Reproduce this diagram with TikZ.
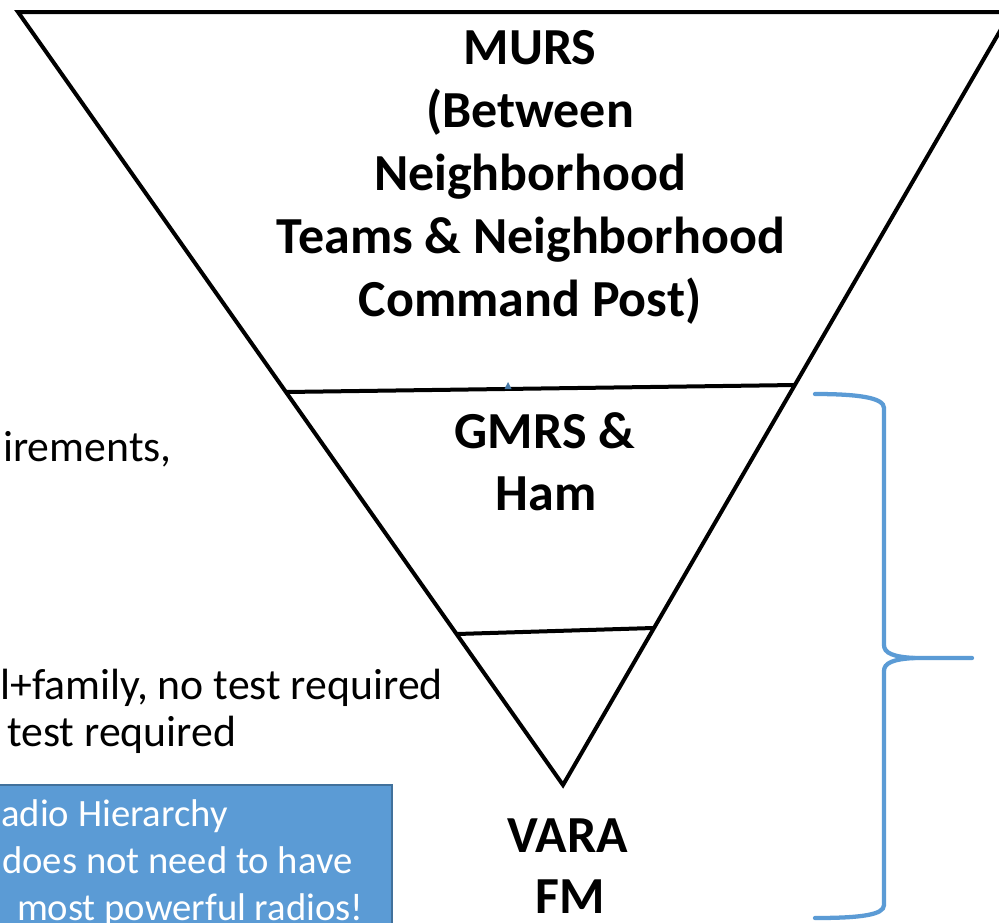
\documentclass[tikz,border=0pt]{standalone}
\usepackage{fontspec}
\setmainfont{Carlito}
\definecolor{boxblue}{HTML}{5B9BD5}
\definecolor{boxedge}{HTML}{41719C}
\begin{document}
\begin{tikzpicture}[x=0.75pt,y=-0.75pt,
  tierlabel/.style={font=\fontsize{39}{47}\selectfont\bfseries, anchor=base, inner sep=0pt},
  sidetext/.style={font=\fontsize{32.8}{38}\selectfont, anchor=base west, inner sep=0pt},
  boxtext/.style={font=\fontsize{29}{34}\selectfont, anchor=base west, inner sep=0pt, text=white},
  outline/.style={line width=3pt, line join=miter},
  divider/.style={line width=3pt},
  bracestyle/.style={draw=boxblue, line width=3.2pt, line cap=round}]
\useasboundingbox (0,0) rectangle (999,922);
\fill[white] (0,0) rectangle (999,922);
% triangle
\coordinate (tl) at (18,12);
\coordinate (tr) at (1011,12);
\coordinate (apex) at (563,785);
\draw[outline] (tl) -- (tr) -- (apex) -- cycle;
% dividers
\coordinate (d1l) at (286,392);
\coordinate (d1r) at (795,385);
\coordinate (d2l) at (457,634);
\coordinate (d2r) at (653,628);
\draw[divider] (d1l) -- (d1r);
\draw[divider] (d2l) -- (d2r);
\fill[boxedge!80!boxblue] (504.5,389) -- (508,382) -- (511.5,389) -- cycle;
% tier labels
\node[tierlabel] (m1) at (530,64) {MURS};
\node[tierlabel] (m2) at (530,127) {(Between};
\node[tierlabel] (m3) at (530,190) {Neighborhood};
\node[tierlabel] (m4) at (531,253) {Teams \& Neighborhood};
\node[tierlabel] (m5) at (530,316) {Command Post)};
\node[tierlabel] (g1) at (545,448) {GMRS \&};
\node[tierlabel] (g2) at (546,510) {Ham};
\node[tierlabel] (v1) at (568,852) {VARA};
\node[tierlabel] (v2) at (570,913) {FM};
% side texts
\node[sidetext] (s1) at (3,461) {irements,};
\node[sidetext] (s2) at (0,699) {l+family, no test required};
\node[sidetext] (s3) at (7,746) {test required};
% blue box
\filldraw[fill=boxblue, draw=boxedge, line width=1.1pt] (-5,785) rectangle (392,935);
\node[boxtext] (b1) at (1,826) {adio Hierarchy};
\node[boxtext] (b2) at (2,873) {does not need to have};
\node[boxtext] (b3) at (8,920) {\ most powerful radios!};
% brace
\coordinate (bt) at (815,394);
\coordinate (bm) at (972,658);
\coordinate (bb) at (815,918);
\draw[bracestyle] (bt) .. controls (860,394) and (884,398) .. (884,408) -- (884,645)
   .. controls (884,653) and (893,657) .. (915,658) -- (bm);
\draw[bracestyle] (915,658) .. controls (893,659) and (884,663) .. (884,671) -- (884,905)
   .. controls (884,915) and (860,918) .. (bb);
\end{tikzpicture}
\end{document}
